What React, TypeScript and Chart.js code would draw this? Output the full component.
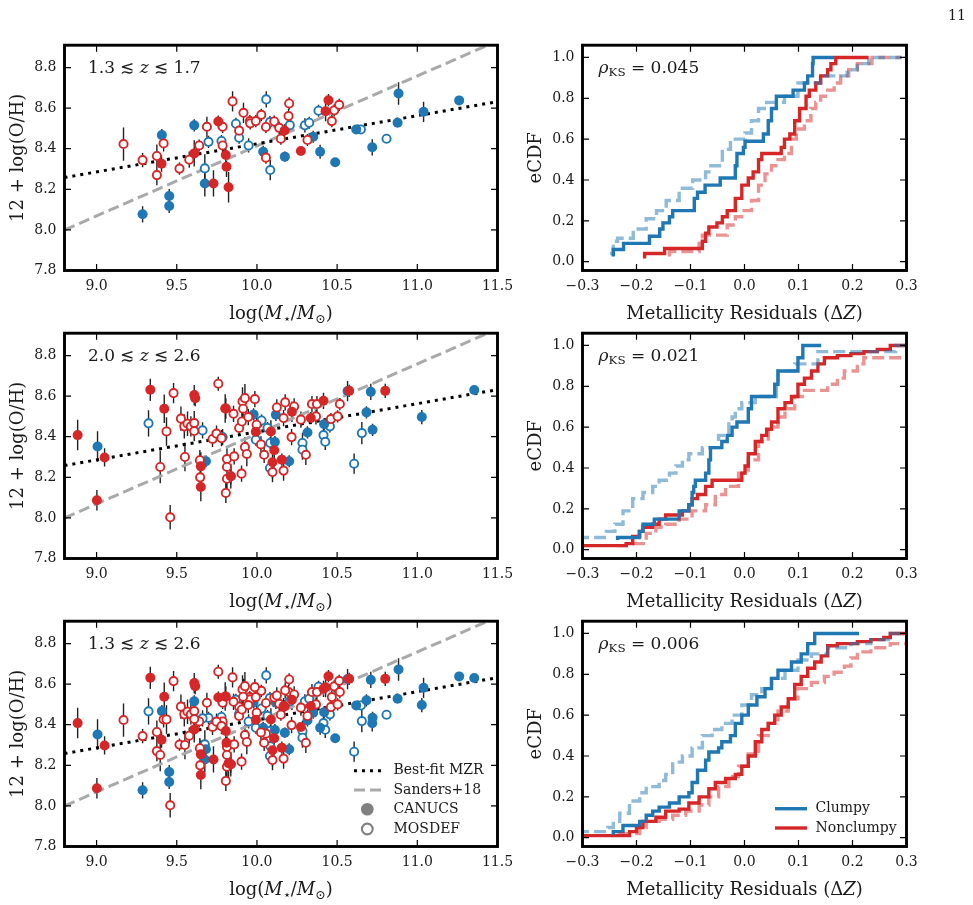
import React, { useEffect, useRef } from 'react';
import { Chart, registerables } from 'chart.js';
Chart.register(...registerables);

const SERIF = '"DejaVu Serif", "Liberation Serif", serif';
const INK = '#1a1a1a';
const BLUE = '#1f77b4';
const RED = '#d62728';
const BLUE_LIGHT = 'rgba(31,119,180,0.5)';
const RED_LIGHT = 'rgba(214,39,40,0.5)';
const GREY_LINE = '#a9a9a9';

// ---------- tick values ----------
const mzrXTicks = [9.0, 9.5, 10.0, 10.5, 11.0, 11.5];
const mzrYTicks = [7.8, 8.0, 8.2, 8.4, 8.6, 8.8];
const cdfXTicks = [-0.3, -0.2, -0.1, 0.0, 0.1, 0.2, 0.3];
const cdfYTicks = [0.0, 0.2, 0.4, 0.6, 0.8, 1.0];

// ---------- reference relations ----------
const mzrFitX = [8.8, 11.5];
const mzrFitY = [8.258, 8.632];
const sandersX = [8.8, 11.5];
const sandersY = [8.0, 8.931];

// ---------- scatter data [logM, 12+log(O/H), err] ----------
// 1.3 < z < 1.7
const lowzClumpyCanucs = [
  [9.287, 8.077, 0.04], [9.407, 8.467, 0.03], [9.453, 8.167, 0.035], [9.453, 8.118, 0.035],
  [9.609, 8.515, 0.03], [9.675, 8.229, 0.065], [10.039, 8.385, 0.03], [10.174, 8.361, 0.025],
  [10.351, 8.459, 0.03], [10.394, 8.385, 0.035], [10.488, 8.333, 0.02], [10.619, 8.495, 0.02],
  [10.719, 8.407, 0.04], [10.877, 8.528, 0.02], [10.883, 8.672, 0.055], [11.039, 8.582, 0.05],
  [11.261, 8.638, 0.02],
];
const lowzClumpyMosdef = [
  [9.675, 8.303, 0.07], [9.698, 8.434, 0.03], [9.779, 8.438, 0.03], [9.889, 8.454, 0.03],
  [9.869, 8.523, 0.03], [9.948, 8.416, 0.035], [10.058, 8.643, 0.04], [10.083, 8.295, 0.05],
  [10.081, 8.531, 0.03], [10.205, 8.516, 0.03], [10.299, 8.515, 0.035], [10.326, 8.528, 0.03],
  [10.384, 8.587, 0.03], [10.648, 8.495, 0.02], [10.808, 8.449, 0.02],
];
const lowzNonclumpyCanucs = [
  [9.405, 8.326, 0.04], [9.609, 8.377, 0.065], [9.759, 8.534, 0.03], [9.729, 8.229, 0.065],
  [9.806, 8.369, 0.04], [9.810, 8.311, 0.05], [9.823, 8.210, 0.075], [10.172, 8.490, 0.03],
  [10.274, 8.389, 0.02], [10.428, 8.585, 0.05], [10.446, 8.639, 0.03],
];
const lowzNonclumpyMosdef = [
  [9.168, 8.423, 0.082], [9.287, 8.344, 0.035], [9.376, 8.364, 0.057], [9.376, 8.270, 0.05],
  [9.418, 8.426, 0.04], [9.517, 8.302, 0.03], [9.578, 8.346, 0.04], [9.640, 8.416, 0.03],
  [9.688, 8.508, 0.05], [9.786, 8.508, 0.03], [9.786, 8.416, 0.04], [9.848, 8.633, 0.05],
  [9.889, 8.489, 0.03], [9.916, 8.577, 0.05], [9.956, 8.536, 0.03], [9.958, 8.525, 0.03],
  [9.993, 8.536, 0.03], [10.027, 8.567, 0.03], [10.056, 8.507, 0.03], [10.056, 8.356, 0.03],
  [10.108, 8.534, 0.03], [10.139, 8.503, 0.03], [10.149, 8.449, 0.03], [10.197, 8.561, 0.035],
  [10.201, 8.623, 0.03], [10.315, 8.443, 0.03], [10.467, 8.536, 0.03], [10.482, 8.589, 0.03],
  [10.513, 8.616, 0.03],
];
// 2.0 < z < 2.6
const highzClumpyCanucs = [
  [9.006, 8.352, 0.075], [9.682, 8.279, 0.03], [9.979, 8.510, 0.03], [10.112, 8.374, 0.03],
  [10.118, 8.508, 0.03], [10.201, 8.279, 0.03], [10.315, 8.421, 0.03], [10.419, 8.462, 0.03],
  [10.565, 8.625, 0.05], [10.683, 8.520, 0.03], [10.710, 8.621, 0.04], [10.721, 8.434, 0.03],
  [11.028, 8.497, 0.035], [11.355, 8.630, 0.02],
];
const highzClumpyMosdef = [
  [9.324, 8.466, 0.065], [9.661, 8.431, 0.04], [9.786, 8.398, 0.04], [9.837, 8.205, 0.04],
  [9.993, 8.385, 0.03], [10.029, 8.480, 0.03], [10.066, 8.443, 0.03], [10.083, 8.369, 0.03],
  [10.081, 8.246, 0.04], [10.284, 8.369, 0.05], [10.284, 8.336, 0.05], [10.415, 8.408, 0.03],
  [10.426, 8.375, 0.04], [10.455, 8.451, 0.03], [10.606, 8.267, 0.05], [10.654, 8.418, 0.055],
];
const highzNonclumpyCanucs = [
  [8.882, 8.408, 0.075], [9.002, 8.087, 0.05], [9.050, 8.298, 0.045], [9.335, 8.631, 0.055],
  [9.422, 8.538, 0.07], [9.609, 8.605, 0.05], [9.615, 8.590, 0.04], [9.650, 8.254, 0.07],
  [9.650, 8.152, 0.07], [9.802, 8.539, 0.07], [9.837, 8.205, 0.06], [9.993, 8.425, 0.04],
  [10.087, 8.426, 0.055], [10.108, 8.333, 0.04], [10.097, 8.274, 0.08], [10.155, 8.287, 0.03],
  [10.218, 8.523, 0.05], [10.336, 8.492, 0.03], [10.415, 8.577, 0.04], [10.575, 8.626, 0.03],
  [10.800, 8.626, 0.035],
];
const highzNonclumpyMosdef = [
  [9.397, 8.251, 0.08], [9.436, 8.426, 0.07], [9.459, 8.003, 0.06], [9.480, 8.615, 0.05],
  [9.526, 8.489, 0.06], [9.547, 8.451, 0.06], [9.551, 8.300, 0.07], [9.567, 8.464, 0.06],
  [9.588, 8.451, 0.05], [9.609, 8.467, 0.06], [9.609, 8.428, 0.05], [9.644, 8.284, 0.05],
  [9.646, 8.200, 0.05], [9.723, 8.389, 0.04], [9.748, 8.415, 0.04], [9.759, 8.661, 0.035],
  [9.779, 8.393, 0.04], [9.806, 8.539, 0.05], [9.806, 8.123, 0.05], [9.813, 8.290, 0.06],
  [9.813, 8.251, 0.06], [9.813, 8.193, 0.06], [9.854, 8.513, 0.04], [9.858, 8.303, 0.04],
  [9.889, 8.443, 0.04], [9.904, 8.218, 0.04], [9.906, 8.475, 0.05], [9.910, 8.574, 0.07],
  [9.914, 8.538, 0.05], [9.925, 8.590, 0.07], [9.925, 8.349, 0.05], [9.937, 8.315, 0.06],
  [9.946, 8.497, 0.04], [9.987, 8.585, 0.04], [9.998, 8.459, 0.04], [10.025, 8.362, 0.04],
  [10.045, 8.311, 0.04], [10.097, 8.226, 0.05], [10.124, 8.544, 0.04], [10.166, 8.492, 0.04],
  [10.166, 8.233, 0.05], [10.176, 8.569, 0.04], [10.216, 8.398, 0.04], [10.232, 8.549, 0.04],
  [10.274, 8.484, 0.04], [10.305, 8.311, 0.05], [10.343, 8.561, 0.04], [10.368, 8.500, 0.04],
  [10.374, 8.561, 0.04], [10.461, 8.487, 0.03], [10.503, 8.500, 0.03], [10.517, 8.561, 0.03],
];

// ---------- eCDF step curves [residual, fraction] ----------
const lowzClumpyCdf = [
  [-0.243, 0.025], [-0.243, 0.06], [-0.224, 0.09], [-0.176, 0.125], [-0.157, 0.16], [-0.151, 0.19],
  [-0.139, 0.22], [-0.133, 0.25], [-0.093, 0.31], [-0.087, 0.34], [-0.073, 0.375], [-0.045, 0.41],
  [-0.017, 0.47], [-0.014, 0.53], [-0.002, 0.56], [0.001, 0.59], [0.035, 0.625], [0.044, 0.69],
  [0.050, 0.75], [0.059, 0.81], [0.090, 0.84], [0.111, 0.875], [0.117, 0.91], [0.126, 0.97],
  [0.127, 1.0], [0.166, 1.0],
];
const lowzClumpyCdfAlt = [
  [-0.249, 0.04], [-0.243, 0.10], [-0.235, 0.115], [-0.206, 0.16], [-0.182, 0.21], [-0.163, 0.25],
  [-0.145, 0.30], [-0.121, 0.36], [-0.096, 0.40], [-0.072, 0.44], [-0.066, 0.47], [-0.041, 0.55],
  [-0.026, 0.60], [0.001, 0.63], [0.013, 0.69], [0.026, 0.75], [0.041, 0.78], [0.074, 0.81],
  [0.099, 0.875], [0.141, 0.91], [0.190, 0.94], [0.209, 0.97], [0.230, 1.0], [0.291, 1.0],
];
const lowzNonclumpyCdf = [
  [-0.185, 0.016], [-0.185, 0.04], [-0.148, 0.065], [-0.078, 0.10], [-0.072, 0.14], [-0.066, 0.17],
  [-0.051, 0.19], [-0.041, 0.22], [-0.032, 0.25], [-0.017, 0.31], [-0.005, 0.375], [0.007, 0.41],
  [0.016, 0.44], [0.026, 0.50], [0.032, 0.53], [0.068, 0.56], [0.074, 0.60], [0.084, 0.625],
  [0.093, 0.69], [0.102, 0.75], [0.114, 0.81], [0.120, 0.84], [0.132, 0.875], [0.141, 0.91],
  [0.154, 0.94], [0.160, 0.97], [0.169, 1.0], [0.230, 1.0],
];
const lowzNonclumpyCdfAlt = [
  [-0.139, 0.025], [-0.139, 0.05], [-0.084, 0.09], [-0.078, 0.13], [-0.032, 0.18], [-0.017, 0.22],
  [-0.005, 0.25], [0.013, 0.30], [0.026, 0.375], [0.038, 0.43], [0.050, 0.47], [0.062, 0.50],
  [0.074, 0.53], [0.087, 0.60], [0.096, 0.65], [0.111, 0.69], [0.123, 0.75], [0.132, 0.78],
  [0.141, 0.81], [0.154, 0.84], [0.166, 0.875], [0.178, 0.91], [0.193, 0.94], [0.209, 0.97],
  [0.236, 1.0], [0.291, 1.0],
];
const highzClumpyCdf = [
  [-0.235, 0.047], [-0.235, 0.06], [-0.195, 0.09], [-0.188, 0.125], [-0.167, 0.15], [-0.121, 0.19],
  [-0.103, 0.22], [-0.097, 0.28], [-0.094, 0.31], [-0.091, 0.34], [-0.072, 0.375], [-0.066, 0.44],
  [-0.063, 0.50], [-0.042, 0.53], [-0.032, 0.56], [-0.023, 0.60], [-0.014, 0.625], [0.007, 0.69],
  [0.013, 0.75], [0.056, 0.81], [0.062, 0.875], [0.099, 0.94], [0.108, 1.0], [0.142, 1.0],
];
const highzClumpyCdfAlt = [
  [-0.31, 0.06], [-0.256, 0.09], [-0.240, 0.125], [-0.225, 0.19], [-0.207, 0.25], [-0.188, 0.28],
  [-0.170, 0.31], [-0.158, 0.34], [-0.139, 0.375], [-0.127, 0.41], [-0.115, 0.44], [-0.103, 0.47],
  [-0.078, 0.50], [-0.048, 0.56], [-0.029, 0.625], [-0.023, 0.65], [-0.017, 0.69], [-0.005, 0.72],
  [0.020, 0.75], [0.059, 0.81], [0.062, 0.875], [0.093, 0.91], [0.136, 0.97], [0.280, 1.0], [0.31, 1.0],
];
const highzNonclumpyCdf = [
  [-0.31, 0.02], [-0.219, 0.03], [-0.207, 0.065], [-0.194, 0.09], [-0.188, 0.11], [-0.170, 0.125],
  [-0.158, 0.15], [-0.146, 0.17], [-0.115, 0.19], [-0.103, 0.22], [-0.097, 0.25], [-0.087, 0.27],
  [-0.072, 0.31], [-0.060, 0.34], [-0.005, 0.375], [0.001, 0.41], [0.007, 0.47], [0.020, 0.53],
  [0.032, 0.56], [0.041, 0.59], [0.050, 0.625], [0.062, 0.69], [0.075, 0.72], [0.087, 0.75],
  [0.099, 0.81], [0.111, 0.84], [0.124, 0.875], [0.136, 0.91], [0.148, 0.94], [0.172, 0.95],
  [0.197, 0.96], [0.221, 0.97], [0.246, 0.98], [0.270, 1.0], [0.31, 1.0],
];
const highzNonclumpyCdfAlt = [
  [-0.234, 0.02], [-0.219, 0.03], [-0.182, 0.08], [-0.164, 0.11], [-0.146, 0.125], [-0.121, 0.15],
  [-0.097, 0.19], [-0.072, 0.22], [-0.054, 0.27], [-0.035, 0.31], [-0.011, 0.375], [0.007, 0.44],
  [0.026, 0.53], [0.044, 0.60], [0.062, 0.65], [0.075, 0.69], [0.093, 0.75], [0.111, 0.78],
  [0.154, 0.81], [0.172, 0.84], [0.185, 0.875], [0.209, 0.91], [0.221, 0.94], [0.31, 0.94],
];
const allClumpyCdf = [
  [-0.243, 0.015], [-0.243, 0.03], [-0.225, 0.06], [-0.194, 0.08], [-0.182, 0.11], [-0.170, 0.13],
  [-0.158, 0.15], [-0.139, 0.17], [-0.121, 0.20], [-0.103, 0.22], [-0.097, 0.27], [-0.087, 0.33],
  [-0.072, 0.38], [-0.066, 0.42], [-0.048, 0.44], [-0.042, 0.47], [-0.026, 0.50], [-0.017, 0.56],
  [-0.005, 0.60], [0.007, 0.65], [0.023, 0.69], [0.038, 0.73], [0.050, 0.78], [0.062, 0.82],
  [0.087, 0.86], [0.105, 0.90], [0.117, 0.95], [0.130, 1.0], [0.212, 1.0],
];
const allClumpyCdfAlt = [
  [-0.31, 0.03], [-0.253, 0.05], [-0.243, 0.08], [-0.231, 0.12], [-0.213, 0.18], [-0.194, 0.22],
  [-0.182, 0.25], [-0.158, 0.28], [-0.146, 0.31], [-0.133, 0.37], [-0.115, 0.40], [-0.097, 0.44],
  [-0.078, 0.50], [-0.060, 0.53], [-0.042, 0.56], [-0.023, 0.60], [-0.005, 0.65], [0.013, 0.70],
  [0.032, 0.73], [0.050, 0.78], [0.075, 0.82], [0.099, 0.87], [0.124, 0.90], [0.154, 0.93],
  [0.197, 0.95], [0.234, 0.97], [0.270, 1.0], [0.31, 1.0],
];
const allNonclumpyCdf = [
  [-0.31, 0.01], [-0.213, 0.03], [-0.200, 0.05], [-0.188, 0.08], [-0.164, 0.10], [-0.146, 0.13],
  [-0.121, 0.14], [-0.103, 0.17], [-0.084, 0.20], [-0.066, 0.24], [-0.054, 0.27], [-0.035, 0.29],
  [-0.017, 0.31], [-0.005, 0.35], [0.007, 0.40], [0.020, 0.47], [0.032, 0.53], [0.044, 0.56],
  [0.056, 0.60], [0.068, 0.64], [0.081, 0.68], [0.093, 0.75], [0.105, 0.79], [0.117, 0.83],
  [0.130, 0.86], [0.142, 0.89], [0.154, 0.94], [0.172, 0.95], [0.209, 0.96], [0.234, 0.97],
  [0.258, 0.98], [0.270, 1.0], [0.31, 1.0],
];
const allNonclumpyCdfAlt = [
  [-0.234, 0.02], [-0.194, 0.05], [-0.182, 0.08], [-0.158, 0.09], [-0.133, 0.11], [-0.109, 0.13],
  [-0.084, 0.16], [-0.066, 0.20], [-0.048, 0.25], [-0.029, 0.30], [-0.011, 0.35], [0.007, 0.41],
  [0.026, 0.50], [0.044, 0.56], [0.062, 0.62], [0.081, 0.68], [0.099, 0.73], [0.124, 0.76],
  [0.148, 0.79], [0.166, 0.81], [0.185, 0.84], [0.197, 0.88], [0.209, 0.91], [0.234, 0.93],
  [0.270, 0.95], [0.31, 0.95],
];

const rowNotes = [
  ['1.3', '1.7'],
  ['2.0', '2.6'],
  ['1.3', '2.6'],
];
const ksValues = ['0.045', '0.021', '0.006'];

// ---------- layout ----------
const COL_MZR = { x0: 0, w: 516, left: 64.5, right: 497.5 };
const COL_CDF = { x0: 516, w: 457, left: 582.5, right: 906.5 };
const ROWS = [
  { y0: 0, h: 326, top: 45.2, bottom: 270.5 },
  { y0: 326, h: 288, top: 333.2, bottom: 558.5 },
  { y0: 614, h: 291, top: 621.2, bottom: 846.5 },
];

type Seg = { t: string; it?: boolean; sub?: boolean };

function drawRich(ctx: CanvasRenderingContext2D, segs: Seg[], x: number, yMid: number, size: number, align: string) {
  let total = 0;
  const parts = segs.map((s) => {
    const fs = s.sub ? size * 0.7 : size;
    const font = `${s.it ? 'italic ' : ''}${fs}px ${SERIF}`;
    ctx.font = font;
    const w = ctx.measureText(s.t).width;
    total += w;
    return { ...s, font, w };
  });
  let cx = align === 'center' ? x - total / 2 : align === 'right' ? x - total : x;
  const base = yMid + size * 0.36;
  ctx.textAlign = 'left';
  ctx.textBaseline = 'alphabetic';
  ctx.fillStyle = INK;
  for (const p of parts) {
    ctx.font = p.font;
    ctx.fillText(p.t, cx, base + (p.sub ? size * 0.2 : 0));
    cx += p.w;
  }
}

const fmt = (v: number) => (Math.abs(v) < 1e-9 ? 0 : v).toFixed(1).replace('-', '\u2212');

function decorPlugin(spec: any) {
  return {
    id: 'decor',
    beforeDatasetsDraw(chart: any) {
      const ctx = chart.ctx as CanvasRenderingContext2D;
      const { left, right, top, bottom } = chart.chartArea;
      const xs = chart.scales.x;
      const ys = chart.scales.y;
      ctx.save();
      ctx.beginPath();
      ctx.rect(left, top, right - left, bottom - top);
      ctx.clip();
      ctx.strokeStyle = '#222';
      ctx.lineWidth = 1.4;
      chart.data.datasets.forEach((ds: any) => {
        if (!ds.errs) return;
        ctx.beginPath();
        ds.data.forEach((p: any, j: number) => {
          const px = xs.getPixelForValue(p.x);
          ctx.moveTo(px, ys.getPixelForValue(p.y - ds.errs[j]));
          ctx.lineTo(px, ys.getPixelForValue(p.y + ds.errs[j]));
        });
        ctx.stroke();
      });
      ctx.restore();
    },
    afterDraw(chart: any) {
      const ctx = chart.ctx as CanvasRenderingContext2D;
      const { left, right, top, bottom } = chart.chartArea;
      const xs = chart.scales.x;
      const ys = chart.scales.y;
      ctx.save();
      ctx.strokeStyle = '#000';
      ctx.lineWidth = 1.2;
      const tl = 6.5;
      ctx.beginPath();
      const xt = xs.ticks && xs.ticks.length ? xs.ticks.map((t: any) => t.value) : spec.xTicks;
      const yt = ys.ticks && ys.ticks.length ? ys.ticks.map((t: any) => t.value) : spec.yTicks;
      xt.forEach((v: number) => {
        const px = xs.getPixelForValue(v);
        ctx.moveTo(px, bottom); ctx.lineTo(px, bottom - tl);
        ctx.moveTo(px, top); ctx.lineTo(px, top + tl);
      });
      yt.forEach((v: number) => {
        const py = ys.getPixelForValue(v);
        ctx.moveTo(left, py); ctx.lineTo(left + tl, py);
        ctx.moveTo(right, py); ctx.lineTo(right - tl, py);
      });
      ctx.stroke();
      ctx.lineWidth = 2.9;
      ctx.strokeRect(left, top, right - left, bottom - top);
      ctx.fillStyle = INK;
      ctx.font = `14px ${SERIF}`;
      ctx.textBaseline = 'middle';
      ctx.textAlign = 'center';
      xt.forEach((v: number) => ctx.fillText(fmt(v), xs.getPixelForValue(v), bottom + 15.5));
      ctx.textAlign = 'right';
      yt.forEach((v: number) => ctx.fillText(fmt(v), left - 8, ys.getPixelForValue(v)));
      drawRich(ctx, spec.xTitle, (left + right) / 2, bottom + 42, 18, 'center');
      ctx.save();
      ctx.translate(left - 47.5, (top + bottom) / 2);
      ctx.rotate(-Math.PI / 2);
      drawRich(ctx, spec.yTitle, 0, 0, 18, 'center');
      ctx.restore();
      drawRich(ctx, spec.note, left + spec.noteDx, top + 21.5, 17, 'left');
      if (spec.legend) spec.legend(ctx, chart.chartArea);
      ctx.restore();
    },
  };
}

const toXY = (arr: number[][]) => arr.map((p) => ({ x: p[0], y: p[1] }));

function scatterDs(arr: number[][], color: string, filled: boolean) {
  return {
    data: toXY(arr),
    errs: arr.map((p) => p[2]),
    showLine: false,
    pointRadius: filled ? 5 : 4.1,
    pointBorderWidth: filled ? 0 : 1.9,
    pointBackgroundColor: filled ? color : '#ffffff',
    pointBorderColor: color,
  };
}

function relLineDs(xs: number[], ys: number[], color: string, dash: number[], width: number) {
  return {
    data: xs.map((x, i) => ({ x, y: ys[i] })),
    showLine: true,
    pointRadius: 0,
    borderColor: color,
    borderDash: dash,
    borderWidth: width,
    borderCapStyle: 'butt',
    fill: false,
  };
}

function cdfDs(arr: number[][], color: string, dashed: boolean) {
  return {
    data: toXY(arr),
    stepped: 'before',
    pointRadius: 0,
    borderColor: color,
    borderWidth: 3.4,
    borderDash: dashed ? [12, 5] : [],
    fill: false,
    tension: 0,
  };
}

function padding(col: any, row: any) {
  return {
    left: col.left - col.x0,
    right: col.x0 + col.w - col.right,
    top: row.top - row.y0,
    bottom: row.y0 + row.h - row.bottom,
  };
}

const fixedTicks = (arr: number[]) => (scale: any) => {
  scale.ticks = arr.map((v) => ({ value: v }));
};

const mzrLegend = (ctx: CanvasRenderingContext2D, a: any) => {
  const L = a.left, B = a.bottom;
  ctx.save();
  ctx.lineCap = 'butt';
  ctx.strokeStyle = '#000';
  ctx.lineWidth = 3;
  ctx.setLineDash([3, 5]);
  ctx.beginPath(); ctx.moveTo(L + 289.5, B - 75.8); ctx.lineTo(L + 318, B - 75.8); ctx.stroke();
  ctx.strokeStyle = GREY_LINE;
  ctx.lineWidth = 3;
  ctx.setLineDash([11, 5]);
  ctx.beginPath(); ctx.moveTo(L + 289.5, B - 56.5); ctx.lineTo(L + 316.5, B - 56.5); ctx.stroke();
  ctx.setLineDash([]);
  ctx.fillStyle = '#808080';
  ctx.beginPath(); ctx.arc(L + 302.8, B - 37.2, 6.3, 0, Math.PI * 2); ctx.fill();
  ctx.strokeStyle = '#808080';
  ctx.lineWidth = 2.1;
  ctx.fillStyle = '#fff';
  ctx.beginPath(); ctx.arc(L + 302.8, B - 17.5, 5.4, 0, Math.PI * 2); ctx.fill(); ctx.stroke();
  ctx.restore();
  ctx.fillStyle = INK;
  ctx.font = `14px ${SERIF}`;
  ctx.textAlign = 'left';
  ctx.textBaseline = 'middle';
  ctx.fillText('Best-fit MZR', L + 329, B - 75.8);
  ctx.fillText('Sanders+18', L + 329, B - 56.5);
  ctx.fillText('CANUCS', L + 329, B - 37.2);
  ctx.fillText('MOSDEF', L + 329, B - 17.5);
};

const cdfLegend = (ctx: CanvasRenderingContext2D, a: any) => {
  const L = a.left, B = a.bottom;
  ctx.save();
  ctx.lineWidth = 3.4;
  ctx.setLineDash([]);
  ctx.strokeStyle = BLUE;
  ctx.beginPath(); ctx.moveTo(L + 192.5, B - 37.8); ctx.lineTo(L + 224.5, B - 37.8); ctx.stroke();
  ctx.strokeStyle = RED;
  ctx.beginPath(); ctx.moveTo(L + 192.5, B - 18.5); ctx.lineTo(L + 224.5, B - 18.5); ctx.stroke();
  ctx.restore();
  ctx.fillStyle = INK;
  ctx.font = `14px ${SERIF}`;
  ctx.textAlign = 'left';
  ctx.textBaseline = 'middle';
  ctx.fillText('Clumpy', L + 233, B - 37.8);
  ctx.fillText('Nonclumpy', L + 233, B - 18.5);
};

const mzrGroups = [
  { cc: lowzClumpyCanucs, cm: lowzClumpyMosdef, nc: lowzNonclumpyCanucs, nm: lowzNonclumpyMosdef },
  { cc: highzClumpyCanucs, cm: highzClumpyMosdef, nc: highzNonclumpyCanucs, nm: highzNonclumpyMosdef },
  {
    cc: [...lowzClumpyCanucs, ...highzClumpyCanucs],
    cm: [...lowzClumpyMosdef, ...highzClumpyMosdef],
    nc: [...lowzNonclumpyCanucs, ...highzNonclumpyCanucs],
    nm: [...lowzNonclumpyMosdef, ...highzNonclumpyMosdef],
  },
];

const cdfGroups = [
  { c: lowzClumpyCdf, ca: lowzClumpyCdfAlt, n: lowzNonclumpyCdf, na: lowzNonclumpyCdfAlt },
  { c: highzClumpyCdf, ca: highzClumpyCdfAlt, n: highzNonclumpyCdf, na: highzNonclumpyCdfAlt },
  { c: allClumpyCdf, ca: allClumpyCdfAlt, n: allNonclumpyCdf, na: allNonclumpyCdfAlt },
];

function mzrConfig(i: number): any {
  const g = mzrGroups[i];
  const row = ROWS[i];
  return {
    type: 'scatter',
    data: {
      datasets: [
        scatterDs(g.nc, RED, true),
        scatterDs(g.nm, RED, false),
        scatterDs(g.cc, BLUE, true),
        scatterDs(g.cm, BLUE, false),
        relLineDs(mzrFitX, mzrFitY, '#000', [3, 5], 3),
        relLineDs(sandersX, sandersY, GREY_LINE, [11, 5], 3),
      ],
    },
    options: {
      responsive: false,
      animation: false,
      events: [],
      layout: { padding: padding(COL_MZR, row) },
      plugins: { legend: { display: false }, tooltip: { enabled: false } },
      scales: {
        x: { type: 'linear', display: false, min: 8.8, max: 11.5, afterBuildTicks: fixedTicks(mzrXTicks) },
        y: { type: 'linear', display: false, min: 7.8, max: 8.91, afterBuildTicks: fixedTicks(mzrYTicks) },
      },
    },
    plugins: [
      decorPlugin({
        xTicks: mzrXTicks,
        yTicks: mzrYTicks,
        xTitle: [{ t: 'log(' }, { t: 'M', it: true }, { t: '\u22C6', sub: true }, { t: '/' }, { t: 'M', it: true }, { t: '\u2299', sub: true }, { t: ')' }],
        yTitle: [{ t: '12 + log(O/H)' }],
        note: [{ t: `${rowNotes[i][0]} \u2272 ` }, { t: 'z', it: true }, { t: ` \u2272 ${rowNotes[i][1]}` }],
        noteDx: 23.5,
        legend: i === 2 ? mzrLegend : null,
      }),
    ],
  };
}

function cdfConfig(i: number): any {
  const g = cdfGroups[i];
  const row = ROWS[i];
  return {
    type: 'line',
    data: {
      datasets: [
        cdfDs(g.ca, BLUE_LIGHT, true),
        cdfDs(g.na, RED_LIGHT, true),
        cdfDs(g.c, BLUE, false),
        cdfDs(g.n, RED, false),
      ],
    },
    options: {
      responsive: false,
      animation: false,
      events: [],
      layout: { padding: padding(COL_CDF, row) },
      plugins: { legend: { display: false }, tooltip: { enabled: false } },
      scales: {
        x: { type: 'linear', display: false, min: -0.3, max: 0.3, afterBuildTicks: fixedTicks(cdfXTicks) },
        y: { type: 'linear', display: false, min: -0.043, max: 1.06, afterBuildTicks: fixedTicks(cdfYTicks) },
      },
    },
    plugins: [
      decorPlugin({
        xTicks: cdfXTicks,
        yTicks: cdfYTicks,
        xTitle: [{ t: 'Metallicity Residuals (\u0394' }, { t: 'Z', it: true }, { t: ')' }],
        yTitle: [{ t: 'eCDF' }],
        note: [{ t: '\u03C1', it: true }, { t: 'KS', sub: true }, { t: ` = ${ksValues[i]}` }],
        noteDx: 16,
        legend: i === 2 ? cdfLegend : null,
      }),
    ],
  };
}

function Panel({ col, row, config }: any) {
  const ref = useRef<HTMLCanvasElement>(null);
  useEffect(() => {
    const chart = new Chart(ref.current as HTMLCanvasElement, config);
    return () => chart.destroy();
  }, []);
  return (
    <canvas
      ref={ref}
      width={col.w}
      height={row.h}
      style={{ position: 'absolute', left: col.x0, top: row.y0, width: col.w, height: row.h }}
    />
  );
}

export default function App() {
  return (
    <div style={{ position: 'absolute', left: 0, top: 0, width: 973, height: 905, background: '#fff', overflow: 'hidden' }}>
      {ROWS.map((row, i) => (
        <React.Fragment key={i}>
          <Panel col={COL_MZR} row={row} config={mzrConfig(i)} />
          <Panel col={COL_CDF} row={row} config={cdfConfig(i)} />
        </React.Fragment>
      ))}
      <div style={{ position: 'absolute', left: 948, top: 6, fontFamily: SERIF, fontSize: 14, lineHeight: '18px', color: INK }}>11</div>
    </div>
  );
}
